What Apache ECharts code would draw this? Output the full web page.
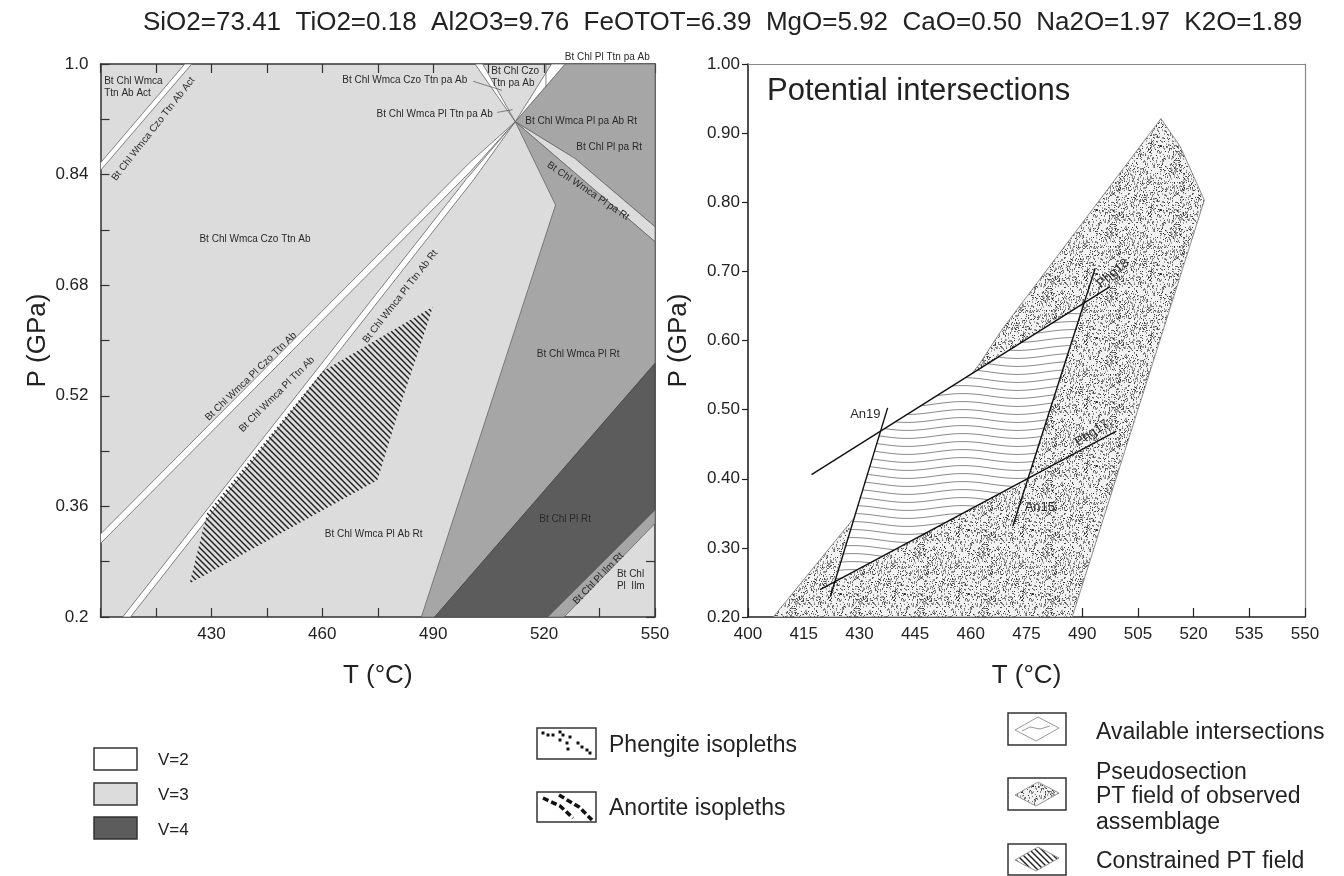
<!DOCTYPE html>
<html>
<head>
<meta charset="utf-8">
<title>Pseudosection</title>
<script src="https://cdn.jsdelivr.net/npm/echarts@6/dist/echarts.min.js"></script>
<style>
html,body{margin:0;padding:0;background:#fff;}
#chart{width:1344px;height:876px;}
</style>
</head>
<body>
<div id="chart"></div>
<script>
// bulk composition (title)
var oxides = ['SiO2', 'TiO2', 'Al2O3', 'FeOTOT', 'MgO', 'CaO', 'Na2O', 'K2O'];
var oxideWt = [73.41, 0.18, 9.76, 6.39, 5.92, 0.50, 1.97, 1.89];

// tick labels
var leftTempLabels = [430, 460, 490, 520, 550];
var leftPressLabels = ['0.2', '0.36', '0.52', '0.68', '0.84', '1.0'];
var rightPressLabels = ['0.20', '0.30', '0.40', '0.50', '0.60', '0.70', '0.80', '0.90', '1.00'];

// left pseudosection fields [T, P]
var fieldPaAbRt = [[525.7, 1.0], [550, 1.0], [550, 0.7646], [528.3, 0.8635], [512.2, 0.9165]];
var bandWmcaPlPaRt = [[512.2, 0.9165], [528.3, 0.8635], [550, 0.7646], [550, 0.7429]];
var fieldWmcaPlRt = [[512.2, 0.9165], [550, 0.7429], [550, 0.567], [490.4, 0.2], [486.8, 0.2], [523.1, 0.796]];
var fieldPlRt = [[490.4, 0.2], [550, 0.567], [550, 0.3546], [521.0, 0.2]];
var bandPlIlmRt = [[521.0, 0.2], [550, 0.3546], [550, 0.3353], [525.4, 0.2]];
var stripeAct = [[400, 0.857], [422.8, 1.0], [424.7, 1.0], [400, 0.846]];
var stripeCzo = [[400, 0.3064], [400, 0.320], [500, 0.858], [512.2, 0.9165], [500, 0.844]];
var stripeTtn = [[406.0, 0.2], [408.1, 0.2], [501.0, 0.833], [512.2, 0.9165], [498.9, 0.833]];
var stripePaAb = [[512.2, 0.9165], [501.3, 1.0], [503.4, 1.0]];
var stripeTop = [[512.2, 0.9165], [522.0, 1.0], [525.7, 1.0]];
var constrainedLeft = [[424.1, 0.2486], [428.8, 0.350], [459.9, 0.5548], [489.9, 0.6488], [487.9, 0.615], [481.6, 0.5138], [474.9, 0.398]];
var leaders = [
  [[500.8, 0.975], [508.6, 0.962]],
  [[507.3, 0.930], [511.5, 0.934]],
  [[520.5, 1.0], [520.5, 0.967]]
];
// [text, T, P, rotation deg, align]
var leftLabels = [
  ['Bt Chl Wmca\nTtn Ab Act', 401.0, 0.967, 0, 'left'],
  ['Bt Chl Wmca Czo Ttn Ab Act', 414.3, 0.906, 52, 'center'],
  ['Bt Chl Wmca Czo Ttn pa Ab', 482.3, 0.976, 0, 'center'],
  ['Bt Chl Czo\nTtn pa Ab', 505.7, 0.981, 0, 'left'],
  ['Bt Chl Pl Ttn pa Ab', 537.1, 1.0097, 0, 'center'],
  ['Bt Chl Wmca Pl Ttn pa Ab', 490.4, 0.9277, 0, 'center'],
  ['Bt Chl Wmca Pl pa Ab Rt', 530.0, 0.9175, 0, 'center'],
  ['Bt Chl Pl pa Rt', 537.6, 0.880, 0, 'center'],
  ['Bt Chl Wmca Pl pa Rt', 531.9, 0.8162, -34, 'center'],
  ['Bt Chl Wmca Czo Ttn Ab', 441.8, 0.7468, 0, 'center'],
  ['Bt Chl Wmca Pl Ttn Ab Rt', 481.1, 0.6635, 52, 'center'],
  ['Bt Chl Wmca Pl Czo Ttn Ab', 440.7, 0.548, 44, 'center'],
  ['Bt Chl Wmca Pl Ttn Ab', 447.7, 0.522, 45, 'center'],
  ['Bt Chl Wmca Pl Ab Rt', 473.9, 0.3195, 0, 'center'],
  ['Bt Chl Wmca Pl Rt', 529.2, 0.580, 0, 'center'],
  ['Bt Chl Pl Rt', 525.7, 0.341, 0, 'center'],
  ['Bt Chl Pl Ilm Rt', 534.7, 0.2558, 46, 'center'],
  ['Bt Chl\nPl  Ilm', 539.7, 0.253, 0, 'left']
];

// right panel [T, P]
var pseudoField = [[406.8, 0.2], [462.2, 0.565], [468.4, 0.616], [511.2, 0.921], [516.4, 0.8805], [522.9, 0.803], [487.3, 0.2]];
var availableField = [[435.6, 0.469], [490.5, 0.654], [475.4, 0.400], [423.0, 0.250]];
var phg18 = [[417.1, 0.406], [497.5, 0.678]];
var phg17 = [[419.4, 0.2396], [499.2, 0.4688]];
var an19 = [[422.2, 0.230], [437.6, 0.5025]];
var an15 = [[471.3, 0.3312], [493.5, 0.7046]];
var rightLabels = [
  ['An19', 431.6, 0.493, 0],
  ['An15', 478.6, 0.358, 0],
  ['Phg17', 492.6, 0.466, 34],
  ['Phg18', 498.3, 0.697, 40]
];

var FONT = '"Liberation Sans", Arial, sans-serif';
var LIGHT = '#dcdcdc', MID = '#a6a6a6', DARK = '#5c5c5c';

function frac(x) { return x - Math.floor(x); }

// fill textures
function hatchCanvas() {
  var c = document.createElement('canvas');
  c.width = 6; c.height = 6;
  var g = c.getContext('2d');
  g.strokeStyle = '#1e1e1e';
  g.lineWidth = 1.4;
  g.beginPath();
  g.moveTo(-1, -1); g.lineTo(7, 7);
  g.moveTo(-1, 5); g.lineTo(1, 7);
  g.moveTo(5, -1); g.lineTo(7, 1);
  g.stroke();
  return c;
}
function stippleCanvas() {
  var c = document.createElement('canvas');
  c.width = 64; c.height = 64;
  var g = c.getContext('2d');
  g.fillStyle = '#f2f2f2';
  g.fillRect(0, 0, 64, 64);
  for (var i = 0; i < 950; i++) {
    var a = frac(Math.sin(i * 12.9898) * 43758.5453);
    var b = frac(Math.sin(i * 78.233) * 12345.678);
    var d = frac(Math.sin(i * 39.425) * 24634.634);
    var v = Math.floor(45 + d * 130);
    g.fillStyle = 'rgb(' + v + ',' + v + ',' + v + ')';
    g.fillRect(Math.floor(a * 64), Math.floor(b * 64), 1, d > 0.6 ? 2 : 1);
  }
  return c;
}
function wavyCanvas() {
  var c = document.createElement('canvas');
  c.width = 110; c.height = 8;
  var g = c.getContext('2d');
  g.fillStyle = '#fff';
  g.fillRect(0, 0, 110, 8);
  g.strokeStyle = '#8a8a8a';
  g.lineWidth = 1;
  g.beginPath();
  for (var x = 0; x <= 110; x++) {
    var y = 4 + 2.4 * Math.sin(2 * Math.PI * x / 110);
    if (x === 0) g.moveTo(x, y); else g.lineTo(x, y);
  }
  g.stroke();
  return c;
}
var hatch = { image: hatchCanvas(), repeat: 'repeat' };
var stipple = { image: stippleCanvas(), repeat: 'repeat' };
var wavy = { image: wavyCanvas(), repeat: 'repeat' };

function polygon(pts, ax, style, z) {
  return {
    type: 'custom', xAxisIndex: ax, yAxisIndex: ax, z: z || 2, silent: true, clip: true,
    data: pts,
    renderItem: function (params, api) {
      if (params.dataIndex !== 0) return null;
      return { type: 'polygon', shape: { points: pts.map(function (p) { return api.coord(p); }) }, style: style };
    }
  };
}
function polyline(pts, ax, style, z) {
  return {
    type: 'custom', xAxisIndex: ax, yAxisIndex: ax, z: z || 4, silent: true, clip: true,
    data: pts,
    renderItem: function (params, api) {
      if (params.dataIndex !== 0) return null;
      return { type: 'polyline', shape: { points: pts.map(function (p) { return api.coord(p); }) }, style: style };
    }
  };
}
function labels(list, ax, size) {
  return {
    type: 'custom', xAxisIndex: ax, yAxisIndex: ax, z: 6, silent: true, clip: false,
    data: list.map(function (l) { return [l[1], l[2]]; }),
    renderItem: function (params, api) {
      var l = list[params.dataIndex];
      var p = api.coord([api.value(0), api.value(1)]);
      return {
        type: 'text', x: p[0], y: p[1], rotation: l[3] * Math.PI / 180,
        style: { text: l[0], fill: '#2a2a2a', fontSize: size, fontFamily: FONT, lineHeight: size + 2,
          align: l[4] || 'center', verticalAlign: 'middle' }
      };
    }
  };
}

var edge = '#666';
var series = [
  polygon(fieldPaAbRt, 0, { fill: MID, stroke: edge, lineWidth: 0.8 }),
  polygon(bandWmcaPlPaRt, 0, { fill: LIGHT, stroke: edge, lineWidth: 0.8 }),
  polygon(fieldWmcaPlRt, 0, { fill: MID, stroke: edge, lineWidth: 0.8 }),
  polygon(fieldPlRt, 0, { fill: DARK, stroke: '#444', lineWidth: 0.8 }),
  polygon(bandPlIlmRt, 0, { fill: MID, stroke: edge, lineWidth: 0.8 }),
  polygon(stripeAct, 0, { fill: '#fff', stroke: edge, lineWidth: 0.8 }, 3),
  polygon(stripeCzo, 0, { fill: '#fff', stroke: edge, lineWidth: 0.8 }, 3),
  polygon(stripeTtn, 0, { fill: '#fff', stroke: edge, lineWidth: 0.8 }, 3),
  polygon(stripePaAb, 0, { fill: '#fff', stroke: edge, lineWidth: 0.8 }, 3),
  polygon(stripeTop, 0, { fill: '#fff', stroke: edge, lineWidth: 0.8 }, 3),
  polygon(constrainedLeft, 0, { fill: hatch }, 4),
  labels(leftLabels, 0, 10),

  polygon(pseudoField, 2, { fill: stipple, stroke: '#777', lineWidth: 0.8 }),
  polygon(availableField, 2, { fill: wavy }, 3),
  polyline(phg18, 2, { stroke: '#111', lineWidth: 1.4, fill: null }),
  polyline(phg17, 2, { stroke: '#111', lineWidth: 1.4, fill: null }),
  polyline(an19, 2, { stroke: '#111', lineWidth: 1.4, fill: null }),
  polyline(an15, 2, { stroke: '#111', lineWidth: 1.4, fill: null }),
  labels(rightLabels, 2, 13)
];
leaders.forEach(function (l) {
  series.push(polyline(l, 0, { stroke: '#555', lineWidth: 0.7, fill: null }, 5));
});

var tickTxt = { color: '#222', fontSize: 17, fontFamily: FONT };
var nameTxt = { color: '#222', fontSize: 26, fontFamily: FONT };
var frame = { show: true, onZero: false, lineStyle: { color: '#333', width: 1.5 } };

var xAxis = [
  { gridIndex: 0, type: 'value', min: 400, max: 550, interval: 15, position: 'bottom',
    axisLine: frame, axisTick: { inside: true, length: 9, lineStyle: { color: '#333', width: 1.2 } },
    axisLabel: Object.assign({ margin: 9, formatter: function (v) { return leftTempLabels.indexOf(v) >= 0 ? String(v) : ''; } }, tickTxt),
    splitLine: { show: false }, name: 'T (°C)', nameLocation: 'middle', nameGap: 46, nameTextStyle: nameTxt },
  { gridIndex: 0, type: 'value', min: 400, max: 550, interval: 15, position: 'top',
    axisLine: frame, axisTick: { inside: true, length: 9, lineStyle: { color: '#333', width: 1.2 } },
    axisLabel: { show: false }, splitLine: { show: false } },
  { gridIndex: 1, type: 'value', min: 400, max: 550, interval: 15, position: 'bottom',
    axisLine: { show: true, onZero: false, lineStyle: { color: '#222', width: 1.6 } },
    axisTick: { inside: true, length: 9, lineStyle: { color: '#222', width: 1.2 } },
    axisLabel: Object.assign({ margin: 9 }, tickTxt),
    splitLine: { show: false }, name: 'T (°C)', nameLocation: 'middle', nameGap: 46, nameTextStyle: nameTxt },
  { gridIndex: 1, type: 'value', min: 400, max: 550, position: 'top',
    axisLine: { show: true, onZero: false, lineStyle: { color: '#888', width: 1.2 } },
    axisTick: { show: false }, axisLabel: { show: false }, splitLine: { show: false } }
];
var yAxis = [
  { gridIndex: 0, type: 'value', min: 0.2, max: 1.0, interval: 0.08, position: 'left',
    axisLine: frame, axisTick: { inside: true, length: 9, lineStyle: { color: '#333', width: 1.2 } },
    axisLabel: Object.assign({ margin: 12, formatter: function (v) {
      var k = Math.round((v - 0.2) / 0.08); return k % 2 === 0 ? leftPressLabels[k / 2] : ''; } }, tickTxt),
    splitLine: { show: false }, name: 'P (GPa)', nameLocation: 'middle', nameRotate: 90, nameGap: 50, nameTextStyle: nameTxt },
  { gridIndex: 0, type: 'value', min: 0.2, max: 1.0, interval: 0.08, position: 'right',
    axisLine: frame, axisTick: { inside: true, length: 9, lineStyle: { color: '#333', width: 1.2 } },
    axisLabel: { show: false }, splitLine: { show: false } },
  { gridIndex: 1, type: 'value', min: 0.2, max: 1.0, interval: 0.1, position: 'left',
    axisLine: { show: true, onZero: false, lineStyle: { color: '#222', width: 1.6 } },
    axisTick: { inside: false, length: 6, lineStyle: { color: '#222', width: 1.2 } },
    axisLabel: Object.assign({ margin: 8, formatter: function (v) { return rightPressLabels[Math.round((v - 0.2) / 0.1)]; } }, tickTxt),
    splitLine: { show: false }, name: 'P (GPa)', nameLocation: 'middle', nameRotate: 90, nameGap: 56, nameTextStyle: nameTxt },
  { gridIndex: 1, type: 'value', min: 0.2, max: 1.0, position: 'right',
    axisLine: { show: true, onZero: false, lineStyle: { color: '#888', width: 1.2 } },
    axisTick: { show: false }, axisLabel: { show: false }, splitLine: { show: false } }
];

// legend glyphs and texts (pixel layout)
function txt(x, y, s, size) {
  return { type: 'text', x: x, y: y, style: { text: s, fill: '#222', fontSize: size, fontFamily: FONT, verticalAlign: 'middle' } };
}
function box(x, y, w, h, fill) {
  return { type: 'rect', shape: { x: x, y: y, width: w, height: h }, style: { fill: fill, stroke: '#333', lineWidth: 1.5 } };
}
function diamond(cx, cy, fill, stroke) {
  return { type: 'polygon', shape: { points: [[cx - 22, cy + 1], [cx + 1, cy - 12], [cx + 22, cy - 1], [cx - 1, cy + 12]] },
    style: { fill: fill, stroke: stroke, lineWidth: 1 } };
}
var phgDots = [[543, 733], [548, 735], [553, 735], [560, 732], [563, 735], [570, 737], [560, 740], [567, 743], [578, 743], [582, 747], [568, 749], [587, 750], [590, 753]];
var graphic = [
  txt(143, 22.5, oxides.map(function (o, i) { return o + '=' + oxideWt[i].toFixed(2); }).join('  '), 26),
  txt(767, 91, 'Potential intersections', 31),
  box(94, 748, 43, 22, '#fff'), txt(158, 760, 'V=2', 17),
  box(94, 783, 43, 22, LIGHT), txt(158, 795, 'V=3', 17),
  box(94, 817, 43, 22, DARK), txt(158, 830, 'V=4', 17),
  box(537, 728, 59, 31, '#fff'), txt(609, 746, 'Phengite isopleths', 23),
  box(537, 792, 59, 30, '#fff'), txt(609, 809, 'Anortite isopleths', 23),
  { type: 'polyline', shape: { points: [[543, 798], [560, 806], [573, 818]] }, style: { stroke: '#111', lineWidth: 3.5, lineDash: [6, 3], fill: null } },
  { type: 'polyline', shape: { points: [[559, 795], [579, 807], [592, 820]] }, style: { stroke: '#111', lineWidth: 3.5, lineDash: [6, 3], fill: null } },
  box(1008, 713, 58, 32, '#fff'), diamond(1037, 729, '#fff', '#999'),
  { type: 'polyline', shape: { points: [[1022, 731], [1030, 727], [1040, 729], [1050, 726]] }, style: { stroke: '#999', lineWidth: 1, fill: null } },
  txt(1096, 733, 'Available intersections', 23),
  box(1008, 778, 58, 32, '#fff'), diamond(1037, 794, stipple, '#999'),
  txt(1096, 773, 'Pseudosection', 23), txt(1096, 797, 'PT field of observed', 23), txt(1096, 823, 'assemblage', 23),
  box(1008, 844, 58, 31, '#fff'), diamond(1037, 859, hatch, '#999'),
  txt(1096, 862, 'Constrained PT field', 23)
];
phgDots.forEach(function (d) {
  graphic.push({ type: 'rect', shape: { x: d[0] - 1.5, y: d[1] - 1.5, width: 3, height: 3 }, style: { fill: '#111' } });
});

var chart = echarts.init(document.getElementById('chart'), null, { renderer: 'canvas' });
chart.setOption({
  animation: false,
  backgroundColor: '#fff',
  grid: [
    { left: 100.5, top: 64, width: 554.5, height: 553, show: true, backgroundColor: LIGHT, borderWidth: 0 },
    { left: 748, top: 64, width: 557, height: 553, show: true, backgroundColor: '#fff', borderWidth: 0 }
  ],
  xAxis: xAxis,
  yAxis: yAxis,
  series: series,
  graphic: graphic
});
</script>
</body>
</html>
